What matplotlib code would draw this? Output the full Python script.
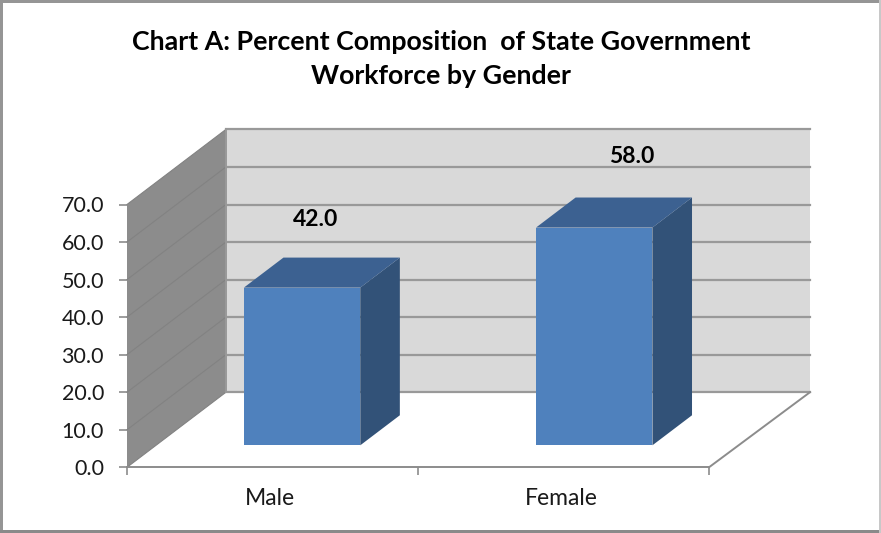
import matplotlib
matplotlib.use('Agg')
import matplotlib.pyplot as plt
from matplotlib.patches import Polygon, Rectangle
from matplotlib.transforms import ScaledTranslation

categories = ['Male', 'Female']
values = [42.0, 58.0]
y_ticks = [0, 10, 20, 30, 40, 50, 60, 70]

# --- oblique projection: depth 0 is the front plane, depth 1 the back wall ---
DEPTH_X = 0.340
DEPTH_Y = 20.0
BAR_W = 0.40
BAR_D0 = 0.293
BAR_D1 = 0.693
BAR_SPREAD = 1.004


def proj(x, y, d):
    return (x + d * DEPTH_X, y + d * DEPTH_Y)


W, H = 881, 533
plt.rcParams['font.family'] = ['Lato', 'DejaVu Sans']

fig = plt.figure(figsize=(W / 100, H / 100), dpi=100, facecolor='white')
ax = fig.add_axes([127 / W, (H - 467.3) / H, 582 / W, 262.8 / H])
ax.set_xlim(0, 2)
ax.set_ylim(0, 70)
ax.patch.set_visible(False)
for name in ['top', 'right', 'left']:
    ax.spines[name].set_visible(False)
ax.spines['bottom'].set_color('#8c8c8c')
ax.spines['bottom'].set_linewidth(1.4)

# --- walls ---
ax.add_patch(Polygon([proj(0, 0, 1), proj(0, 70, 1), proj(2.007, 70, 1), proj(2.007, 0, 1)],
                     closed=True, fc='#d9d9d9', ec='none', clip_on=False, zorder=1))
ax.add_patch(Polygon([proj(0, 0, 0), proj(0, 70, 0), proj(0, 70, 1), proj(0, 0, 1)],
                     closed=True, fc='#8c8c8c', ec='none', clip_on=False, zorder=1))

# --- gridlines on both walls ---
for t in y_ticks:
    xs, ys = zip(proj(0, t, 1), proj(2.007, t, 1))
    ax.plot(xs, ys, color='#999999', lw=1.6, clip_on=False, zorder=2)
    xs, ys = zip(proj(0, t, 0), proj(0, t, 1))
    ax.plot(xs, ys, color='#828282', lw=0.8, clip_on=False, zorder=2)
xs, ys = zip(proj(0, 0, 1), proj(0, 70, 1))
ax.plot(xs, ys, color='#999999', lw=1.4, clip_on=False, zorder=2)

# floor edge on the right
xs, ys = zip(proj(2, 0, 0), proj(2.007, 0, 1))
ax.plot(xs, ys, color='#8c8c8c', lw=1.4, clip_on=False, zorder=2)

# --- bars ---
label_shift = [0.047, 0.128]
label_rise = [18.25, 18.9]
for i, v in enumerate(values):
    x0 = (i + 0.5) * BAR_SPREAD - BAR_W / 2
    x1 = x0 + BAR_W
    ax.add_patch(Polygon([proj(x1, 0, BAR_D0), proj(x1, v, BAR_D0), proj(x1, v, BAR_D1), proj(x1, 0, BAR_D1)],
                         closed=True, fc='#325278', ec='none', clip_on=False, zorder=3))
    ax.add_patch(Polygon([proj(x0, v, BAR_D0), proj(x1, v, BAR_D0), proj(x1, v, BAR_D1), proj(x0, v, BAR_D1)],
                         closed=True, fc='#3c6191', ec='none', clip_on=False, zorder=3))
    ax.add_patch(Polygon([proj(x0, 0, BAR_D0), proj(x1, 0, BAR_D0), proj(x1, v, BAR_D0), proj(x0, v, BAR_D0)],
                         closed=True, fc='#4f81bd', ec='none', clip_on=False, zorder=4))
    lx, ly = proj((i + 0.5) * BAR_SPREAD, v, BAR_D0)
    ax.text(lx + label_shift[i], ly + label_rise[i], '%.1f' % v, ha='center', va='center',
            fontsize=16.5, fontweight='bold', color='black', zorder=5)

# --- axes ---
ax.set_yticks(y_ticks)
ax.set_yticklabels(['%.1f' % t for t in y_ticks])
ax.set_xticks([0, 1, 2])
ax.set_xticklabels([])
ax.set_xticks([0.5, 1.5], minor=True)
ax.set_xticklabels(categories, minor=True)
ax.tick_params(axis='y', length=6, width=1.2, color='#8c8c8c', pad=10.5, labelsize=15.5, labelcolor='#1a1a1a')
ax.tick_params(axis='x', which='major', length=5.5, width=1.2, color='#8c8c8c')
ax.tick_params(axis='x', which='minor', length=0, pad=15, labelsize=16.5, labelcolor='#1a1a1a')

# category labels sit a little left of the slot centre
shift = ScaledTranslation(-2.5 / 100, 0, fig.dpi_scale_trans)
for lab in ax.get_xticklabels(minor=True):
    lab.set_transform(lab.get_transform() + shift)

# --- title ---
fig.text(441 / W, 1 - 42 / H, 'Chart A: Percent Composition  of State Government',
         ha='center', va='center', fontsize=19.3, fontweight='bold', color='black')
fig.text(441 / W, 1 - 76 / H, 'Workforce by Gender',
         ha='center', va='center', fontsize=19.3, fontweight='bold', color='black')

# --- outer border ---
fig.add_artist(Rectangle((0, 0), 2.5 / W, 1, transform=fig.transFigure, fc='#959595', ec='none'))
fig.add_artist(Rectangle((0, 1 - 3 / H), 1, 3 / H, transform=fig.transFigure, fc='#959595', ec='none'))
fig.add_artist(Rectangle((0, 0), 1, 3 / H, transform=fig.transFigure, fc='#8a8a8a', ec='none'))
fig.add_artist(Rectangle((1 - 2.5 / W, 0), 2.5 / W, 1, transform=fig.transFigure, fc='#c8c8c8', ec='none'))

fig.savefig('out.png', dpi=100)
